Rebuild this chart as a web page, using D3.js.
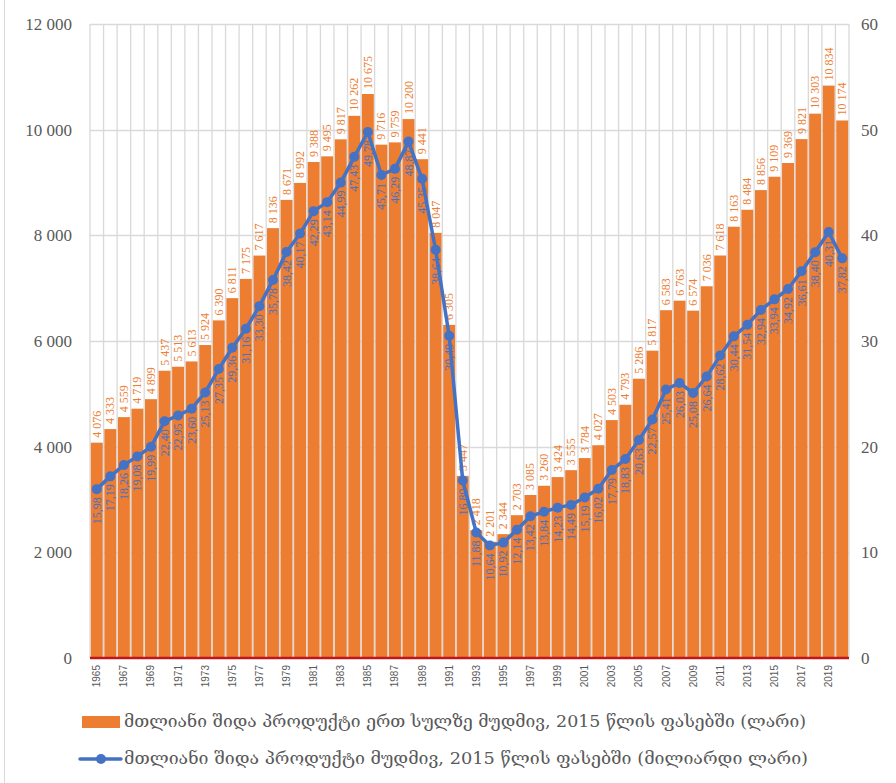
<!DOCTYPE html>
<meta charset="utf-8">
<head>
  <style>
    body { margin: 0; background: #fff; }
    #chart { width: 896px; height: 783px; }
  </style>
</head>
<body>
<div id="chart"></div>
<script src="https://d3js.org/d3.v7.min.js"></script>
<script>

var years = d3.range(1965, 2021);

// GDP per capita, constant 2015 prices (GEL)
var perCapita = [4076, 4333, 4559, 4719, 4899, 5437, 5513, 5613, 5924, 6390,
  6811, 7175, 7617, 8136, 8671, 8992, 9388, 9495, 9817, 10262,
  10675, 9716, 9759, 10200, 9441, 8047, 6305, 3447, 2418, 2201,
  2344, 2703, 3085, 3260, 3424, 3555, 3784, 4027, 4503, 4793,
  5286, 5817, 6583, 6763, 6574, 7036, 7618, 8163, 8484, 8856,
  9109, 9369, 9821, 10303, 10834, 10174];

// GDP, constant 2015 prices (bn GEL)
var gdpTotal = [15.98, 17.19, 18.26, 19.08, 19.99, 22.40, 22.95, 23.60, 25.13, 27.35,
  29.36, 31.16, 33.30, 35.78, 38.42, 40.17, 42.29, 43.14, 44.99, 47.43,
  49.78, 45.71, 46.29, 48.87, 45.35, 38.64, 30.49, 16.80, 11.88, 10.64,
  10.92, 12.14, 13.42, 13.84, 14.23, 14.49, 15.19, 16.02, 17.79, 18.83,
  20.63, 22.57, 25.41, 26.03, 25.08, 26.64, 28.62, 30.44, 31.54, 32.94,
  33.94, 34.92, 36.61, 38.40, 40.31, 37.82];

var leftTicks = [0, 2000, 4000, 6000, 8000, 10000, 12000];
var rightTicks = [0, 10, 20, 30, 40, 50, 60];

var legendBar = "მთლიანი შიდა პროდუქტი ერთ სულზე მუდმივ, 2015 წლის ფასებში (ლარი)";
var legendLine = "მთლიანი შიდა პროდუქტი მუდმივ, 2015 წლის ფასებში (მილიარდი ლარი)";

var loc = d3.formatLocale({decimal: ",", thousands: " ", grouping: [3], currency: ["", ""]});
var fmtInt = loc.format(",d");
var fmtDec = loc.format(".2f");

var W = 896, H = 783;
var margin = {top: 24, right: 47, bottom: 125, left: 90},
    width = W - margin.left - margin.right,
    height = H - margin.top - margin.bottom;

var svg = d3.select("#chart").append("svg")
    .attr("width", W)
    .attr("height", H);

// outer frame edge
svg.append("line").attr("x1", 4.5).attr("x2", 4.5).attr("y1", 0).attr("y2", H)
  .attr("stroke", "#d9d9d9");

var g = svg.append("g")
    .attr("transform", "translate(" + margin.left + "," + margin.top + ")");

var x = d3.scaleBand().domain(years).range([0, width]).paddingInner(0.12).paddingOuter(0.06);
var step = x.step();
var y = d3.scaleLinear().domain([0, 12000]).range([height, 0]);
var y2 = d3.scaleLinear().domain([0, 60]).range([height, 0]);

var serif = "'Liberation Serif', 'DejaVu Serif', serif";
var georgian = "'DejaVu Serif', 'DejaVu Sans', serif";

// horizontal gridlines
g.selectAll(".hgrid").data(leftTicks.slice(1)).enter().append("line")
  .attr("x1", 0).attr("x2", width)
  .attr("y1", function(d) { return Math.round(y(d)) + 0.5; })
  .attr("y2", function(d) { return Math.round(y(d)) + 0.5; })
  .attr("stroke", "#d9d9d9").attr("stroke-width", 1.3);

// vertical gridlines at category boundaries
g.selectAll(".vgrid").data(d3.range(years.length + 1)).enter().append("line")
  .attr("x1", function(i) { return i * step; })
  .attr("x2", function(i) { return i * step; })
  .attr("y1", 0).attr("y2", height)
  .attr("stroke", "#d9d9d9").attr("stroke-width", 1.3);

// bars
g.selectAll(".bar").data(perCapita).enter().append("rect")
  .attr("x", function(d, i) { return x(years[i]); })
  .attr("width", x.bandwidth())
  .attr("y", function(d) { return y(d); })
  .attr("height", function(d) { return height - y(d); })
  .attr("fill", "#ED7D31");

// baseline
g.append("line").attr("x1", 0).attr("x2", width).attr("y1", height).attr("y2", height)
  .attr("stroke", "#C0161B").attr("stroke-width", 2.5);

// left axis labels
g.selectAll(".ly").data(leftTicks).enter().append("text")
  .attr("x", -18).attr("y", function(d) { return y(d); })
  .attr("dy", "0.35em").attr("text-anchor", "end")
  .style("font-family", serif).style("font-size", "17px").attr("fill", "#595959")
  .text(function(d) { return fmtInt(d); });

// right axis labels
g.selectAll(".ry").data(rightTicks).enter().append("text")
  .attr("x", width + 12).attr("y", function(d) { return y2(d); })
  .attr("dy", "0.35em").attr("text-anchor", "start")
  .style("font-family", serif).style("font-size", "17px").attr("fill", "#595959")
  .text(function(d) { return d; });

// x labels, every other year
g.selectAll(".xl").data(years.filter(function(d, i) { return i % 2 === 0; })).enter().append("text")
  .attr("transform", function(d) {
    return "translate(" + (x(d) + x.bandwidth() / 2 + 3.5) + "," + (height + 7) + ")rotate(-90)";
  })
  .attr("text-anchor", "end")
  .style("font-family", "'Liberation Sans', Arial, sans-serif").style("font-size", "10px")
  .attr("fill", "#595959")
  .text(function(d) { return d; });

// bar labels
g.selectAll(".bl").data(perCapita).enter().append("text")
  .attr("transform", function(d, i) {
    return "translate(" + (x(years[i]) + x.bandwidth() / 2 + 4) + "," + (y(d) - 5) + ")rotate(-90)";
  })
  .attr("text-anchor", "start")
  .style("font-family", serif).style("font-size", "12px")
  .attr("fill", "#ED7D31")
  .text(function(d) { return fmtInt(d); });

// line
var line = d3.line()
  .x(function(d, i) { return x(years[i]) + x.bandwidth() / 2; })
  .y(function(d) { return y2(d); });

g.append("path").datum(gdpTotal)
  .attr("d", line).attr("fill", "none")
  .attr("stroke", "#4472C4").attr("stroke-width", 3.5)
  .attr("stroke-linejoin", "round");

g.selectAll(".pt").data(gdpTotal).enter().append("circle")
  .attr("cx", function(d, i) { return x(years[i]) + x.bandwidth() / 2; })
  .attr("cy", function(d) { return y2(d); })
  .attr("r", 5).attr("fill", "#4472C4");

// line labels
g.selectAll(".ll").data(gdpTotal).enter().append("text")
  .attr("transform", function(d, i) {
    return "translate(" + (x(years[i]) + x.bandwidth() / 2 + 4) + "," + (y2(d) + 8) + ")rotate(-90)";
  })
  .attr("text-anchor", "end")
  .style("font-family", serif).style("font-size", "12px")
  .attr("fill", "#4472C4")
  .text(function(d) { return fmtDec(d); });

// legend
var lg = svg.append("g");
lg.append("rect").attr("x", 82).attr("y", 716).attr("width", 38).attr("height", 12).attr("fill", "#ED7D31");
lg.append("text").attr("x", 124).attr("y", 721).attr("dy", "0.35em")
  .attr("textLength", 682).attr("lengthAdjust", "spacingAndGlyphs")
  .style("font-family", georgian).style("font-size", "17px").attr("fill", "#595959")
  .text(legendBar);
lg.append("line").attr("x1", 80).attr("x2", 121).attr("y1", 759).attr("y2", 759)
  .attr("stroke", "#4472C4").attr("stroke-width", 3.5).attr("stroke-linecap", "round");
lg.append("circle").attr("cx", 101).attr("cy", 759).attr("r", 5).attr("fill", "#4472C4");
lg.append("text").attr("x", 124).attr("y", 758).attr("dy", "0.35em")
  .attr("textLength", 684).attr("lengthAdjust", "spacingAndGlyphs")
  .style("font-family", georgian).style("font-size", "17px").attr("fill", "#595959")
  .text(legendLine);

</script>
</body>
